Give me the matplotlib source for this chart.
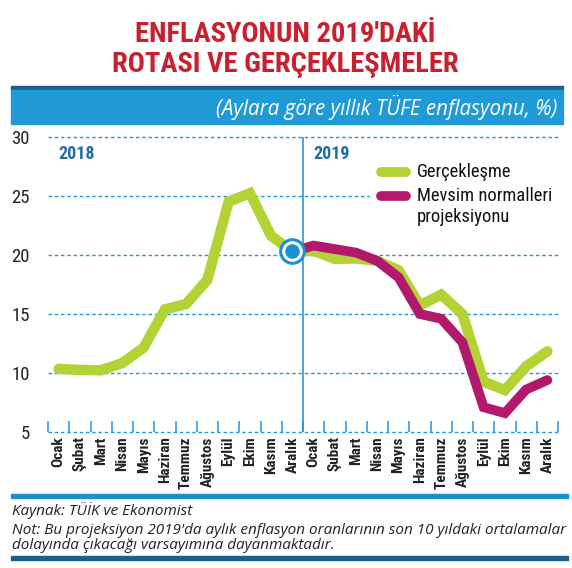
import matplotlib
matplotlib.use('Agg')
import matplotlib.pyplot as plt
from matplotlib import font_manager

# aylar
aylar = ['Ocak', 'Şubat', 'Mart', 'Nisan', 'Mayıs', 'Haziran',
         'Temmuz', 'Ağustos', 'Eylül', 'Ekim', 'Kasım', 'Aralık']
etiketler = aylar + aylar

# yıllık TÜFE, 2018 Ocak - 2019 Aralık
gerceklesme = [10.35, 10.26, 10.23, 10.85, 12.15, 15.39, 15.85, 17.90, 24.52, 25.24, 21.62, 20.30,
               20.35, 19.67, 19.71, 19.50, 18.71, 15.72, 16.65, 15.01, 9.26, 8.55, 10.56, 11.84]
# projeksiyon 2018 Aralık'tan başlıyor
projeksiyon = [20.30, 20.8, 20.5, 20.2, 19.5, 18.1, 15.0, 14.6, 12.6, 7.1, 6.6, 8.6, 9.4]
yticks = [5, 10, 15, 20, 25, 30]

# dar font var mi
names = set(f.name for f in font_manager.fontManager.ttflist)
narrow = [n for n in ['Roboto Condensed', 'Open Sans Condensed', 'Noto Sans Condensed',
                      'Liberation Sans Narrow', 'DejaVu Sans Condensed'] if n in names]
narrow = narrow[:1] + ['DejaVu Sans']

GREEN = '#b3d234'
MAGENTA = '#b2186b'
BLUE = '#1f9ad6'
DARK = '#1c5f8e'
RED = '#c8202f'

fig = plt.figure(figsize=(5.72, 5.68), dpi=100)
W, H = 572.0, 568.0

# baslik
fig.text(285 / W, 1 - 34 / H, "ENFLASYONUN 2019'DAKİ", ha='center', va='center',
         fontsize=20.5, color=RED, family=narrow, weight='bold', stretch='condensed')
fig.text(285 / W, 1 - 65 / H, 'ROTASI VE GERÇEKLEŞMELER', ha='center', va='center',
         fontsize=20.5, color=RED, family=narrow, weight='bold', stretch='condensed')

# ust bant
fig.patches.append(plt.Rectangle((11 / W, 1 - 90 / H), 552 / W, 4 / H, transform=fig.transFigure,
                                 color=DARK, zorder=0))
fig.patches.append(plt.Rectangle((11 / W, 1 - 124 / H), 552 / W, 34 / H, transform=fig.transFigure,
                                 color=BLUE, zorder=0))
fig.text(557 / W, 1 - 107 / H, '(Aylara göre yıllık TÜFE enflasyonu, %)', ha='right', va='center',
         fontsize=14.8, color='white', style='italic', family=['Open Sans', 'DejaVu Sans'])

ax = fig.add_axes([48 / W, 1 - 432 / H, 510 / W, 295 / H])
x = list(range(len(gerceklesme)))
xp = list(range(11, 11 + len(projeksiyon)))

ax.set_xlim(-0.5, 23.5)
ax.set_ylim(5, 30)
for s in ax.spines.values():
    s.set_visible(False)

# kesikli yatay cizgiler
for yv in yticks:
    ax.axhline(yv, color=BLUE, lw=1.0, ls=(0, (2.5, 2)), zorder=1, clip_on=False)
ax.axvline(11.5, color='#3f9fcf', lw=1.3, zorder=1)

# lejant arkasi beyaz
ax.add_patch(plt.Rectangle((322 / 510, 1 - 92 / 295), 190 / 510, 68 / 295, transform=ax.transAxes,
                           color='white', zorder=2, clip_on=False))

ax.plot(x, gerceklesme, color=GREEN, lw=7.5, solid_joinstyle='miter', solid_capstyle='round', zorder=3)
ax.plot(xp, projeksiyon, color=MAGENTA, lw=7, solid_joinstyle='miter', solid_capstyle='round', zorder=4)

# aralik 2018 noktasi
ax.scatter([11], [gerceklesme[11]], s=330, color='#1a8fd2', zorder=5, clip_on=False)
ax.scatter([11], [gerceklesme[11]], s=190, color='white', zorder=6, clip_on=False)
ax.scatter([11], [gerceklesme[11]], s=90, color='#1a8fd2', zorder=7, clip_on=False)

ax.set_xticks(x)
ax.set_xticklabels(etiketler, rotation=90, family=narrow, weight='bold', stretch='condensed',
                   fontsize=11, color='#222222')
ax.tick_params(axis='x', which='major', length=0, pad=3)
ax.set_xticks([i - 0.5 for i in range(25)], minor=True)
ax.tick_params(axis='x', which='minor', direction='in', length=8, width=1.1, color=BLUE)

ax.set_yticks(yticks)
ax.set_yticklabels([str(v) for v in yticks], family=narrow, stretch='condensed',
                   fontsize=13.5, color='#222222')
ax.tick_params(axis='y', length=0, pad=13)

ax.text(0.0, 28.6, '2018', color='#1f6ea8', fontsize=13, weight='bold', family=narrow,
        stretch='condensed', va='center', ha='left', zorder=6)
ax.text(12.0, 28.6, '2019', color='#1f6ea8', fontsize=13, weight='bold', family=narrow,
        stretch='condensed', va='center', ha='left', zorder=6)

# lejant (elle)
lx0, lx1 = (381 - 48) / 510, (406 - 48) / 510
ax.plot([lx0, lx1], [1 - 35 / 295] * 2, color=GREEN, lw=7, solid_capstyle='round',
        transform=ax.transAxes, zorder=8, clip_on=False)
ax.plot([lx0, lx1], [1 - 59 / 295] * 2, color=MAGENTA, lw=7, solid_capstyle='round',
        transform=ax.transAxes, zorder=8, clip_on=False)
tx = (417 - 48) / 510
ax.text(tx, 1 - 35 / 295, 'Gerçekleşme', transform=ax.transAxes, va='center', ha='left',
        fontsize=13.3, family=narrow, stretch='condensed', color='#111111', zorder=9)
ax.text(tx, 1 - 59 / 295, 'Mevsim normalleri', transform=ax.transAxes, va='center', ha='left',
        fontsize=13.3, family=narrow, stretch='condensed', color='#111111', zorder=9)
ax.text(tx, 1 - 80 / 295, 'projeksiyonu', transform=ax.transAxes, va='center', ha='left',
        fontsize=13.3, family=narrow, stretch='condensed', color='#111111', zorder=9)

# alt kisim
fig.patches.append(plt.Rectangle((11 / W, 1 - 498 / H), 557 / W, 4 / H, transform=fig.transFigure,
                                 color='#1a90cf', zorder=0))
fig.patches.append(plt.Rectangle((11 / W, 1 - 560 / H), 557 / W, 4 / H, transform=fig.transFigure,
                                 color=DARK, zorder=0))
fig.text(12 / W, 1 - 511 / H, 'Kaynak: TÜİK ve Ekonomist', ha='left', va='center',
         fontsize=11, style='italic', color='#222222', family=['Open Sans', 'DejaVu Sans'])
fig.text(12 / W, 1 - 538 / H,
         "Not: Bu projeksiyon 2019'da aylık enflasyon oranlarının son 10 yıldaki ortalamalar\n"
         "dolayında çıkacağı varsayımına dayanmaktadır.",
         ha='left', va='center', fontsize=11, style='italic', color='#222222', linespacing=0.92,
         family=['Open Sans', 'DejaVu Sans'])

fig.savefig('out.png', dpi=100)
